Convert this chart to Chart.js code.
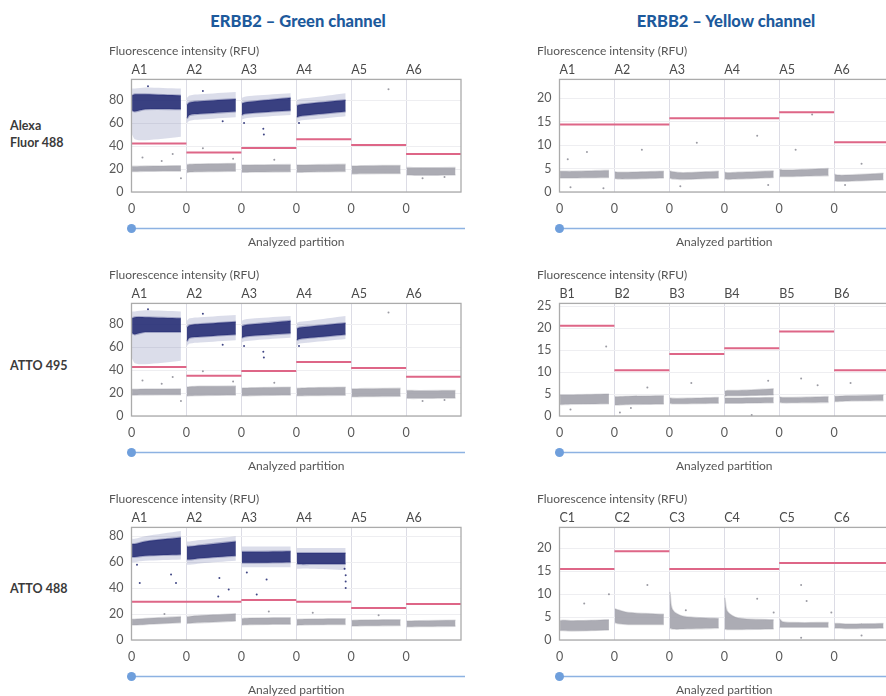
<!DOCTYPE html>
<html>
<head>
<meta charset="utf-8">
<script src="https://cdn.jsdelivr.net/npm/chart.js@4/dist/chart.umd.min.js"></script>
<style>
  html, body { margin: 0; padding: 0; background: #fff; }
  body { width: 886px; height: 696px; overflow: hidden; position: relative; font-family: Lato, "Open Sans", sans-serif; }
  .head { position: absolute; top: 11px; font-weight: 900; font-size: 16.5px; color: #1d5a9c; text-align: center; width: 300px; }
  .row { position: absolute; left: 10px; font-weight: 700; font-size: 12.5px; color: #3a3a3a; line-height: 17px; }
  canvas { position: absolute; }
</style>
</head>
<body>
<div class="head" style="left:148px">ERBB2 – Green channel</div>
<div class="head" style="left:576px">ERBB2 – Yellow channel</div>
<div class="row" style="top:117px">Alexa<br>Fluor 488</div>
<div class="row" style="top:357px">ATTO 495</div>
<div class="row" style="top:580px">ATTO 488</div>

<canvas id="c1" width="356" height="205" style="left:109px;top:44px"></canvas>
<canvas id="c2" width="356" height="205" style="left:537px;top:44px"></canvas>
<canvas id="c3" width="356" height="205" style="left:109px;top:268px"></canvas>
<canvas id="c4" width="356" height="205" style="left:537px;top:268px"></canvas>
<canvas id="c5" width="356" height="205" style="left:109px;top:492px"></canvas>
<canvas id="c6" width="356" height="205" style="left:537px;top:492px"></canvas>

<script>
// ---- wells and axis labels ----
const wellsA = ['A1', 'A2', 'A3', 'A4', 'A5', 'A6'];
const wellsB = ['B1', 'B2', 'B3', 'B4', 'B5', 'B6'];
const wellsC = ['C1', 'C2', 'C3', 'C4', 'C5', 'C6'];
const partitionTicks = ['0', '0', '0', '0', '0', '0'];

// Cluster edges are given per well as RFU values sampled at the start, early part,
// first quarter and end of the well's partitions.

// ---- Alexa Fluor 488, green channel ----
const alexaGreenThreshold = [42.2, 34.3, 38.4, 46.0, 41.0, 33.1];
const alexaGreenNegHi = [[22.3, 22.3, 22.5, 22.8], [23.8, 24.2, 24.4, 24.8], [23.5, 23.5, 23.6, 23.8], [23.4, 23.4, 23.6, 24.0], [22.6, 22.6, 22.8, 23.0], [21.2, 21.2, 21.0, 21.2]];
const alexaGreenNegLo = [[17.8, 17.8, 18.0, 18.2], [17.0, 17.4, 17.6, 18.0], [17.2, 17.2, 17.4, 17.6], [17.2, 17.2, 17.4, 17.8], [15.8, 15.8, 16.0, 16.2], [14.8, 14.8, 14.6, 14.8]];
const alexaGreenPosHi = [[84, 85, 85, 84], [76, 78, 79, 81], [77, 78, 79, 82], [75, 76, 77, 80], null, null];
const alexaGreenPosLo = [[71, 70, 72, 72], [64, 67, 68, 70], [67, 68, 69, 71], [65, 66, 67, 70], null, null];
const alexaGreenSpreadHi = [[90, 90, 91, 90], [82, 84, 85, 87], [82, 83, 84, 86], [80, 81, 82, 86], null, null];
const alexaGreenSpreadLo = [[50, 46, 45, 48], [60, 62, 63, 65], [63, 64, 65, 67], [60, 62, 63, 66], null, null];
const alexaGreenStrayPos = [[1.66, 61.5], [2.4, 55], [2.41, 50], [2.05, 60], [0.3, 92], [3.05, 60], [1.3, 88]];
const alexaGreenStrayNeg = [[0.2, 30], [0.55, 27], [0.75, 33], [0.9, 12], [1.3, 38], [1.85, 29], [2.6, 28], [5.3, 12], [5.7, 13], [4.68, 89.4]];

// ---- Alexa Fluor 488, yellow channel ----
const alexaYellowThreshold = [14.4, 14.4, 15.7, 15.7, 17.0, 10.6];
const alexaYellowNegHi = [[4.4, 4.4, 4.4, 4.6], [4.3, 4.2, 4.2, 4.4], [4.5, 4.3, 4.1, 4.4], [4.2, 4.1, 4.2, 4.5], [4.8, 4.7, 4.7, 5.0], [3.8, 3.6, 3.6, 4.0]];
const alexaYellowNegLo = [[3.0, 3.0, 3.0, 3.1], [2.9, 2.8, 2.8, 3.0], [3.0, 2.8, 2.7, 3.0], [2.8, 2.7, 2.8, 3.1], [3.3, 3.3, 3.3, 3.5], [2.4, 2.3, 2.3, 2.6]];
const alexaYellowStrayNeg = [[0.15, 7], [0.5, 8.5], [0.2, 1], [0.8, 0.8], [1.5, 9], [2.5, 10.5], [2.2, 1.2], [3.6, 12], [3.8, 1.5], [4.6, 16.5], [4.3, 9], [5.2, 1.5], [5.5, 6]];

// ---- ATTO 495, green channel ----
const atto495GreenThreshold = [42.7, 35.0, 39.1, 47.0, 41.7, 34.1];
const atto495GreenNegHi = [[23.2, 23.2, 23.4, 23.6], [25.2, 25.5, 25.8, 26.0], [24.2, 24.4, 24.6, 25.0], [24.0, 24.2, 24.6, 25.0], [23.6, 23.6, 23.8, 24.0], [22.2, 22.2, 22.0, 22.2]];
const atto495GreenNegLo = [[18.2, 18.2, 18.4, 18.6], [17.4, 17.6, 17.8, 18.2], [17.6, 17.6, 17.8, 18.2], [17.6, 17.6, 17.8, 18.0], [16.8, 16.8, 17.0, 17.2], [15.6, 15.4, 15.4, 15.6]];
const atto495GreenPosHi = [[85, 86, 86, 85], [77, 79, 80, 82], [78, 79, 80, 83], [76, 77, 78, 81], null, null];
const atto495GreenPosLo = [[72, 71, 73, 73], [65, 68, 69, 71], [68, 69, 70, 72], [66, 67, 68, 71], null, null];
const atto495GreenSpreadHi = [[91, 91, 92, 91], [83, 85, 86, 88], [83, 84, 85, 87], [81, 82, 83, 87], null, null];
const atto495GreenSpreadLo = [[50, 46, 45, 48], [61, 63, 64, 66], [64, 65, 66, 68], [61, 63, 64, 67], null, null];
const atto495GreenStrayPos = [[1.66, 62], [2.4, 56], [2.41, 51], [2.05, 61], [0.3, 93], [3.05, 61], [1.3, 89]];
const atto495GreenStrayNeg = [[0.2, 31], [0.55, 28], [0.75, 34], [0.9, 13], [1.3, 39], [1.85, 30], [2.6, 29], [5.3, 13], [5.7, 14], [4.68, 90]];

// ---- ATTO 495, yellow channel ----
const atto495YellowThreshold = [20.5, 10.4, 14.1, 15.4, 19.2, 10.4];
const atto495YellowNegHi = [[4.8, 4.8, 4.8, 5.0], [4.4, 4.4, 4.5, 4.6], [4.1, 4.0, 4.0, 4.2], [4.1, 4.1, 4.1, 4.2], [4.3, 4.2, 4.2, 4.4], [4.5, 4.5, 4.6, 4.8]];
const atto495YellowNegLo = [[2.6, 2.6, 2.7, 2.8], [2.5, 2.5, 2.6, 2.7], [2.9, 2.8, 2.8, 2.9], [2.9, 2.9, 2.9, 3.0], [3.1, 3.0, 3.0, 3.1], [3.3, 3.3, 3.4, 3.5]];
const atto495YellowUpperHi = [null, null, null, [5.6, 5.8, 5.8, 6.2], null, null];
const atto495YellowUpperLo = [null, null, null, [4.5, 4.6, 4.6, 4.8], null, null];
const atto495YellowStrayNeg = [[0.85, 15.8], [0.2, 1.5], [1.3, 1.8], [1.6, 6.5], [2.4, 7.5], [3.5, 0.2], [3.8, 8], [4.4, 8.5], [4.7, 7], [5.3, 7.5], [1.1, 0.8]];

// ---- ATTO 488, green channel ----
const atto488GreenThreshold = [29.5, 29.5, 30.8, 29.5, 24.6, 27.7];
const atto488GreenNegHi = [[16.0, 16.0, 16.6, 18.0], [18.0, 18.2, 18.8, 20.2], [16.4, 16.8, 17.0, 17.2], [15.8, 16.0, 16.2, 16.4], [15.0, 15.2, 15.4, 15.6], [14.6, 14.6, 14.8, 15.2]];
const atto488GreenNegLo = [[11.6, 11.6, 12.0, 13.4], [12.8, 13.0, 13.4, 14.6], [11.6, 11.8, 12.0, 12.2], [11.4, 11.6, 11.8, 12.0], [10.8, 10.8, 11.0, 11.2], [10.2, 10.2, 10.4, 10.6]];
const atto488GreenPosHi = [[74, 74, 76, 79], [72, 72, 73, 76], [68, 68, 68, 68.5], [67, 67, 67, 67], null, null];
const atto488GreenPosLo = [[64, 64, 65, 66], [62, 62, 63, 65], [59.5, 59.5, 59.5, 60], [59, 58.5, 58.5, 58.5], null, null];
const atto488GreenSpreadHi = [[78, 78, 80, 84], [76, 76, 77, 80], [72, 72, 72, 72], [71, 71, 71, 71], null, null];
const atto488GreenSpreadLo = [[60, 60, 61, 62], [58, 58, 59, 61], [56, 56, 56, 56], [55, 55, 55, 54], null, null];
const atto488GreenStrayPos = [[0.15, 44], [0.72, 50.4], [0.81, 44], [1.6, 47.8], [1.77, 39], [1.58, 33.6], [2.28, 35], [2.46, 46.6], [3.9, 40], [3.9, 45], [3.9, 50], [3.88, 55], [0.1, 58], [2.1, 52]];
const atto488GreenStrayNeg = [[0.6, 20], [2.5, 22], [3.3, 21], [4.5, 19]];

// ---- ATTO 488, yellow channel ----
const atto488YellowThreshold = [15.5, 19.4, 15.5, 15.5, 16.8, 16.8];
const atto488YellowNegHi = [[4.2, 4.3, 4.2, 4.4], [6.8, 6.6, 6.0, 5.6], [10.5, 6.6, 5.2, 4.7], [9.2, 6.2, 4.8, 4.4], [4.6, 4.0, 3.8, 3.8], [3.6, 3.6, 3.5, 3.6]];
const atto488YellowNegLo = [[2.1, 2.1, 2.0, 2.2], [3.8, 3.6, 3.4, 3.4], [2.6, 2.4, 2.4, 2.6], [2.4, 2.3, 2.3, 2.4], [2.8, 2.8, 2.8, 2.8], [2.6, 2.6, 2.5, 2.6]];
const atto488YellowStrayNeg = [[0.45, 8], [0.9, 10], [1.6, 12], [2.3, 6.5], [3.6, 9], [3.9, 6], [4.5, 8.5], [4.4, 12], [4.95, 6], [4.4, 0.5], [5.5, 1]];

// ---- drawing ----
const PROFILE_AT = [0.01, 0.06, 0.25, 0.9];
const NAVY = 'rgba(30,38,112,0.86)';
const NAVY_EDGE = 'rgba(30,38,112,0.3)';
const NAVY_SPREAD = 'rgba(40,52,130,0.17)';
const GREY = 'rgba(160,160,170,0.88)';
const GREY_EDGE = 'rgba(160,160,170,0.35)';
const PINK = '#de6687';

Chart.defaults.font.family = 'Lato, "Open Sans", sans-serif';
Chart.defaults.color = '#5a5a5a';

function edge(profiles) {
  const pts = [];
  profiles.forEach((p, w) => {
    if (!p) return;
    p.forEach((v, k) => pts.push({ x: w + PROFILE_AT[k], y: v }));
    pts.push({ x: w + 0.95, y: null });
  });
  return pts;
}

function band(hi, lo, fillColor, edgeColor, edgeWidth) {
  return [
    { data: edge(lo), borderColor: edgeColor, borderWidth: edgeWidth, pointRadius: 0, fill: false, spanGaps: false, tension: 0.3 },
    { data: edge(hi), borderColor: edgeColor, borderWidth: edgeWidth, pointRadius: 0, fill: '-1', backgroundColor: fillColor, spanGaps: false, tension: 0.3 }
  ];
}

function steps(values) {
  const pts = [];
  values.forEach((v, w) => pts.push({ x: w, y: v }, { x: w + 1, y: v }, { x: w + 1, y: null }));
  return pts;
}

function strays(list, color) {
  return { data: list.map(([x, y]) => ({ x, y })), showLine: false, pointRadius: 1, pointBorderWidth: 0, pointBackgroundColor: color, borderColor: color };
}

const framePlugin = {
  id: 'frame',
  afterDatasetsDraw(chart) {
    const { ctx, chartArea: a } = chart;
    ctx.save();
    ctx.strokeStyle = '#ababab';
    ctx.lineWidth = 1.3;
    ctx.strokeRect(a.left, a.top, a.right - a.left, a.bottom - a.top);
    ctx.restore();
  }
};

const sliderPlugin = {
  id: 'slider',
  afterDraw(chart) {
    const { ctx, chartArea: a } = chart;
    const x0 = chart.scales.x.getPixelForValue(0);
    const y = a.bottom + 36.5;
    ctx.save();
    ctx.strokeStyle = '#8db2e2';
    ctx.lineWidth = 1.6;
    ctx.beginPath();
    ctx.moveTo(x0, y);
    ctx.lineTo(chart.width, y);
    ctx.stroke();
    ctx.fillStyle = '#6f9fdc';
    ctx.beginPath();
    ctx.arc(x0, y, 4.5, 0, Math.PI * 2);
    ctx.fill();
    ctx.restore();
  }
};

function panel(id, p) {
  const wellTicks = s => { s.ticks = [0, 1, 2, 3, 4, 5].map(v => ({ value: v })); };
  const datasets = [
    { data: steps(p.threshold), borderColor: PINK, borderWidth: 2, pointRadius: 0, fill: false, spanGaps: false },
    strays(p.strayNeg || [], 'rgba(130,130,140,0.8)'),
    strays(p.strayPos || [], 'rgba(30,38,112,0.85)')
  ];
  if (p.upperHi) datasets.push(...band(p.upperHi, p.upperLo, GREY, GREY_EDGE, 1.5));
  if (p.posHi) datasets.push(...band(p.posHi, p.posLo, NAVY, NAVY_EDGE, 2));
  datasets.push(...band(p.negHi, p.negLo, GREY, GREY_EDGE, 1.6));
  if (p.spreadHi) datasets.push(...band(p.spreadHi, p.spreadLo, NAVY_SPREAD, 'rgba(0,0,0,0)', 0));

  new Chart(document.getElementById(id), {
    type: 'line',
    data: { datasets },
    options: {
      responsive: false,
      animation: false,
      events: [],
      layout: { padding: 0 },
      plugins: {
        legend: { display: false },
        tooltip: { enabled: false },
        title: {
          display: true, text: 'Fluorescence intensity (RFU)', align: 'start',
          font: { size: 12, weight: 'normal' }, color: '#555', padding: 0
        }
      },
      scales: {
        x: {
          type: 'linear', position: 'bottom', min: 0, max: 6,
          afterBuildTicks: wellTicks,
          afterFit: s => { s.height = 57; },
          ticks: { callback: (v, i) => partitionTicks[i], padding: 9, autoSkip: false, maxRotation: 0, font: { size: 12.5 }, color: '#5a5a5a' },
          grid: { color: '#dcdce5', lineWidth: 1, drawTicks: false },
          border: { display: false },
          title: { display: true, text: 'Analyzed partition', font: { size: 12 }, color: '#555', padding: 0 }
        },
        top: {
          type: 'linear', position: 'top', min: 0, max: 6,
          afterBuildTicks: wellTicks,
          afterFit: s => { s.height = 21; },
          ticks: { callback: (v, i) => p.wells[i], align: 'start', padding: 2, autoSkip: false, maxRotation: 0, font: { size: 12.5 }, color: '#4a4a4a' },
          grid: { display: false, drawTicks: false },
          border: { display: false }
        },
        y: {
          min: 0, max: p.yMax,
          afterFit: s => { s.width = 22.5; },
          ticks: { stepSize: p.yStep, includeBounds: false, padding: 8, font: { size: 12.5 }, color: '#5a5a5a' },
          grid: { color: '#eeeef1', drawTicks: false },
          border: { display: false }
        }
      }
    },
    plugins: [framePlugin, sliderPlugin]
  });
}

panel('c1', { wells: wellsA, yMax: 98, yStep: 20, threshold: alexaGreenThreshold, negHi: alexaGreenNegHi, negLo: alexaGreenNegLo,
  posHi: alexaGreenPosHi, posLo: alexaGreenPosLo, spreadHi: alexaGreenSpreadHi, spreadLo: alexaGreenSpreadLo,
  strayPos: alexaGreenStrayPos, strayNeg: alexaGreenStrayNeg });
panel('c2', { wells: wellsA, yMax: 24, yStep: 5, threshold: alexaYellowThreshold, negHi: alexaYellowNegHi, negLo: alexaYellowNegLo,
  strayNeg: alexaYellowStrayNeg });
panel('c3', { wells: wellsA, yMax: 98, yStep: 20, threshold: atto495GreenThreshold, negHi: atto495GreenNegHi, negLo: atto495GreenNegLo,
  posHi: atto495GreenPosHi, posLo: atto495GreenPosLo, spreadHi: atto495GreenSpreadHi, spreadLo: atto495GreenSpreadLo,
  strayPos: atto495GreenStrayPos, strayNeg: atto495GreenStrayNeg });
panel('c4', { wells: wellsB, yMax: 25.6, yStep: 5, threshold: atto495YellowThreshold, negHi: atto495YellowNegHi, negLo: atto495YellowNegLo,
  upperHi: atto495YellowUpperHi, upperLo: atto495YellowUpperLo, strayNeg: atto495YellowStrayNeg });
panel('c5', { wells: wellsA, yMax: 86.8, yStep: 20, threshold: atto488GreenThreshold, negHi: atto488GreenNegHi, negLo: atto488GreenNegLo,
  posHi: atto488GreenPosHi, posLo: atto488GreenPosLo, spreadHi: atto488GreenSpreadHi, spreadLo: atto488GreenSpreadLo,
  strayPos: atto488GreenStrayPos, strayNeg: atto488GreenStrayNeg });
panel('c6', { wells: wellsC, yMax: 24.6, yStep: 5, threshold: atto488YellowThreshold, negHi: atto488YellowNegHi, negLo: atto488YellowNegLo,
  strayNeg: atto488YellowStrayNeg });
</script>
</body>
</html>
